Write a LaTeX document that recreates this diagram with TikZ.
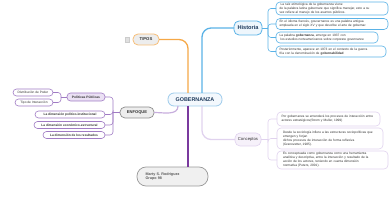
\documentclass[tikz,border=0pt]{standalone}
\usepackage{fontspec}
\setmainfont{Liberation Sans}
\definecolor{cOrange}{HTML}{F5A847}
\definecolor{cOrangeB}{HTML}{F7BE78}
\definecolor{cBlue}{HTML}{5AB2E6}
\definecolor{cGobB}{HTML}{9DCBEB}
\definecolor{cGobF}{HTML}{F3F8FD}
\definecolor{cNavy}{HTML}{1E3A5C}
\definecolor{cHistF}{HTML}{EEF6FC}
\definecolor{cPurD}{HTML}{7A3A9E}
\definecolor{cPurM}{HTML}{A07BC4}
\definecolor{cPurL}{HTML}{C7AEDD}
\definecolor{cPolF}{HTML}{EBE1F4}
\definecolor{cLav}{HTML}{E0D2EE}
\definecolor{cLavF}{HTML}{F6F1FA}
\definecolor{cGrayB}{HTML}{8C8C8C}
\definecolor{cGrayF}{HTML}{EDEDED}
\definecolor{cText}{HTML}{333333}
\begin{document}
\begin{tikzpicture}[x=1pt,y=-1pt,
  every node/.style={inner sep=0pt, outer sep=0pt, text=cText},
  leaf/.style={rounded corners=4pt, line width=0.6pt, fill=white,
    font=\fontsize{3.2}{4}\selectfont, align=left, anchor=west},
  pill/.style={rounded corners=3.5pt, line width=0.6pt, fill=white, draw=cPurM,
    font=\fontsize{3.2}{4}\selectfont, anchor=east, minimum height=7pt},
  link/.style={line width=1.3pt, rounded corners=9pt},
  twig/.style={line width=0.6pt, rounded corners=3pt},
]
\useasboundingbox (0,0) rectangle (390,200);

% central topic
\node[draw=cGobB, fill=cGobF, rounded corners=6pt, line width=0.8pt,
  minimum width=54pt, minimum height=13pt,
  font=\bfseries\fontsize{5.4}{6}\selectfont, text=cNavy] (gob) at (195,99.5) {GOBERNANZA};

% main topics
\node[draw=cOrangeB, fill=cGrayF, rounded corners=5pt, line width=0.8pt,
  minimum width=26pt, minimum height=11pt,
  font=\bfseries\fontsize{4.2}{5}\selectfont] (tipos) at (146,39.5) {TIPOS};
\node[draw=black!20, fill=black!12, minimum width=4pt, minimum height=5pt] (tiposicon) at (127,39.5) {};

\node[draw=cBlue, fill=cHistF, rounded corners=5pt, line width=0.8pt,
  minimum width=28pt, minimum height=14pt,
  font=\bfseries\fontsize{5.6}{6}\selectfont, text=cNavy] (hist) at (248,28) {Historia};

\node[draw=cLav, fill=cLavF, rounded corners=5pt, line width=0.6pt,
  minimum width=26pt, minimum height=13pt,
  font=\fontsize{4.2}{5}\selectfont] (conc) at (248,139.5) {Conceptos};

\node[draw=cGrayB, fill=cGrayF, rounded corners=5pt, line width=0.7pt,
  minimum width=34pt, minimum height=11pt,
  font=\bfseries\fontsize{4.1}{5}\selectfont] (enf) at (137,112.5) {ENFOQUE};

\node[draw=black!40, fill=black!6, rounded corners=9pt, line width=0.7pt,
  minimum width=71pt, minimum height=19pt, text width=54pt, align=left,
  font=\bfseries\fontsize{3.7}{4.6}\selectfont, text=black!65] (marty) at (172.5,176.5)
  {Marty S. Rodriguez\\Grupo 98};

% Historia leaves
\node[leaf, draw=cBlue, minimum width=112pt, minimum height=13pt, text width=105pt] (h1) at (276,8.5)
  {\ La raíz etimológica de la gobernanza viene\\ de la palabra latina gubernare que significa manejar, esto a su\\ vez refiere al manejo de los asuntos públicos.};
\node[leaf, draw=cBlue, minimum width=112pt, minimum height=11pt, text width=105pt] (h2) at (276,24)
  {En el idioma francés, gouvernance es una palabra antigua\\ empleada en el siglo XV y que describe el arte de gobernar.};
\node[leaf, draw=cBlue, minimum width=102pt, minimum height=11pt, text width=95pt] (h3) at (276,37.5)
  {La palabra \textbf{gobernanza}, emerge en 1937 con\\ \ los estudios norteamericanos sobre corporate governance};
\node[leaf, draw=cBlue, minimum width=110pt, minimum height=11pt, text width=103pt] (h4) at (276,51.5)
  {Posteriormente, aparece en 1973 en el contexto de la guerra\\ fría con la denominación de \textbf{gobernabilidad}};

% Conceptos leaves
\node[leaf, draw=cLav, minimum width=103pt, minimum height=14pt, text width=94pt] (c1) at (277,119)
  {Por gobernanza se entenderá los procesos de interacción entre\\ actores estratégicos(Strom y Muller, 1999)};
\node[leaf, draw=cLav, minimum width=106pt, minimum height=21pt, text width=94pt] (c2) at (277,138.5)
  {Desde la sociología infiere a las estructuras sociopolíticas que\\ emergen y forjan\\ dichos procesos de interacción de forma reflexiva\\ (Granovetter, 1985).};
\node[leaf, draw=cLav, minimum width=111pt, minimum height=18pt, text width=99pt] (c3) at (277,160)
  {Es conceptuada como gobernanza como una herramienta\\ analítica y descriptiva, entre la interacción y resultado de la\\ acción de los actores, teniendo en cuenta dimensión\\ normativa (Peters, 2001).};

% Enfoque leaves
\node[pill, fill=cPolF, minimum width=38pt, minimum height=8pt, font=\bfseries\fontsize{3.3}{4}\selectfont] (pol) at (105,97) {Políticas Públicas};
\node[pill, minimum width=70pt, font=\bfseries\fontsize{3.2}{4}\selectfont] (d1) at (105,114.5) {La dimensión político-institucional};
\node[pill, minimum width=71pt, font=\bfseries\fontsize{3.2}{4}\selectfont] (d2) at (105,125) {La dimensión económico-estructural};
\node[pill, minimum width=62pt, font=\bfseries\fontsize{3.2}{4}\selectfont] (d3) at (105,135) {La dimensión de los resultados};
\node[pill, minimum width=40pt] (dist) at (53,92.5) {Distribución de Poder};
\node[pill, minimum width=38pt] (tipo) at (53,102.5) {Tipo de Interacción};

% link start points on the central topic
\coordinate (gT) at ([xshift=-7pt]gob.north);
\coordinate (gH) at ([xshift=7pt]gob.north);
\coordinate (gC) at ([xshift=7pt]gob.south);
\coordinate (gM) at ([xshift=-7pt]gob.south);
\coordinate (gE) at ([xshift=-17pt]gob.south);

% main links
\draw[link, cOrange] (gT) |- (tipos.east);
\draw[link, cBlue] (gH) |- (hist.west);
\draw[link, cLav] (gC) |- (conc.west);
\draw[line width=1.3pt, cPurD] (gM) -- (gM |- marty.north);
\draw[line width=1.2pt, cPurL] (gE) to[out=-90,in=0] (enf.east);

% Historia bracket
\coordinate (hb) at ([xshift=6pt]hist.east);
\draw[twig, cBlue] (hist.east) -- (hb);
\foreach \n in {h1,h2,h3,h4} \draw[twig, cBlue] (hb) |- (\n.west);

% Conceptos bracket
\coordinate (cb) at ([xshift=7pt]conc.east);
\draw[twig, cLav] (conc.east) -- (cb);
\foreach \n in {c1,c2,c3} \draw[twig, cLav] (cb) |- (\n.west);

% Enfoque bracket
\coordinate (eb) at ([xshift=-7pt]enf.west);
\draw[twig, cPurM] (enf.west) -- (eb);
\foreach \n in {pol,d1,d2,d3} \draw[twig, cPurM] (eb) |- (\n.east);

% Politicas bracket
\coordinate (pb) at ([xshift=-6pt]pol.west);
\draw[twig, cPurM] (pol.west) -- (pb);
\foreach \n in {dist,tipo} \draw[twig, cPurM] (pb) |- (\n.east);
\end{tikzpicture}
\end{document}
